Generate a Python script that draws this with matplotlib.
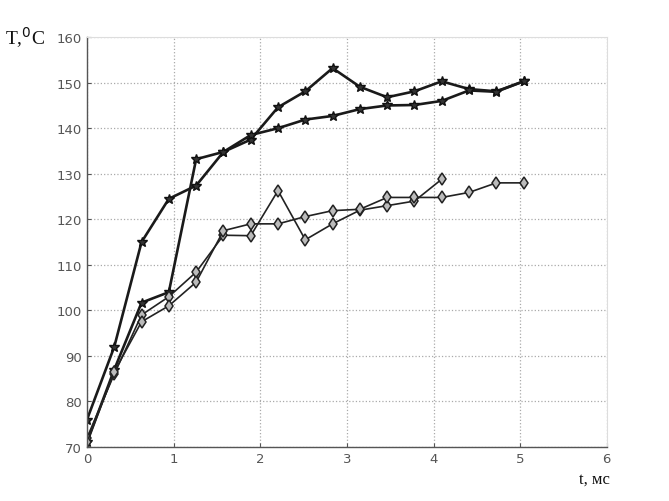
import matplotlib
matplotlib.use("Agg")
import matplotlib.pyplot as plt

t = [0, 0.315, 0.63, 0.945, 1.26, 1.575, 1.89, 2.205, 2.52, 2.835, 3.15, 3.465, 3.78, 4.095, 4.41, 4.725, 5.04]

star1 = [76, 92, 115, 124.5, 127.4, 134.8, 137.5, 144.6, 148.1, 153.2, 149.1, 146.8, 148.1, 150.3, 148.6, 148.1, 150.3]
star2 = [71, 87, 101.7, 104, 133.2, 134.8, 138.5, 140, 141.9, 142.7, 144.2, 145, 145.1, 146, 148.3, 148, 150.3]

t_d1 = t[:14]
diam1 = [72, 86, 99, 103, 108.4, 116.5, 116.4, 126.3, 115.5, 119, 122, 123, 124, 128.8]
diam2 = [71, 86.5, 97.5, 101, 106.2, 117.5, 119, 119, 120.6, 121.9, 122.2, 124.8, 124.8, 124.8, 125.9, 128, 128]

xticks = [0, 1, 2, 3, 4, 5, 6]
yticks = [70, 80, 90, 100, 110, 120, 130, 140, 150, 160]

fig = plt.figure(figsize=(6.69, 5.02), dpi=100)
ax = fig.add_axes([0.130, 0.1076, 0.777, 0.8164])

ax.plot(t, star1, color="#1a1a1a", lw=1.9, marker="*", ms=7.5, mfc="#333333", mec="#111111")
ax.plot(t, star2, color="#1a1a1a", lw=1.9, marker="*", ms=7.5, mfc="#333333", mec="#111111")
ax.plot(t_d1, diam1, color="#222222", lw=1.2, marker="d", ms=6.5, mfc="#bbbbbb", mec="#222222", mew=1.1)
ax.plot(t, diam2, color="#222222", lw=1.2, marker="d", ms=6.5, mfc="#bbbbbb", mec="#222222", mew=1.1)

ax.set_xlim(0, 6)
ax.set_ylim(70, 160)
ax.set_xticks(xticks)
ax.set_yticks(yticks)
ax.tick_params(labelsize=9.5, colors="#555555", direction="in", length=3)
ax.grid(True, ls=":", color="#aaaaaa", lw=0.9)

for s in ["left", "bottom"]:
    ax.spines[s].set_color("#555555")
    ax.spines[s].set_linewidth(1.0)
for s in ["top", "right"]:
    ax.spines[s].set_color("#dddddd")
    ax.spines[s].set_linewidth(0.8)

fig.text(0.008, 0.925, r"T,$^{0}$C", fontsize=14, family="Liberation Serif", color="#111111", va="center")
fig.text(0.912, 0.044, "t, мс", fontsize=12, family="Liberation Serif", ha="right", va="center", color="#111111")

fig.savefig("out.png", dpi=100)
